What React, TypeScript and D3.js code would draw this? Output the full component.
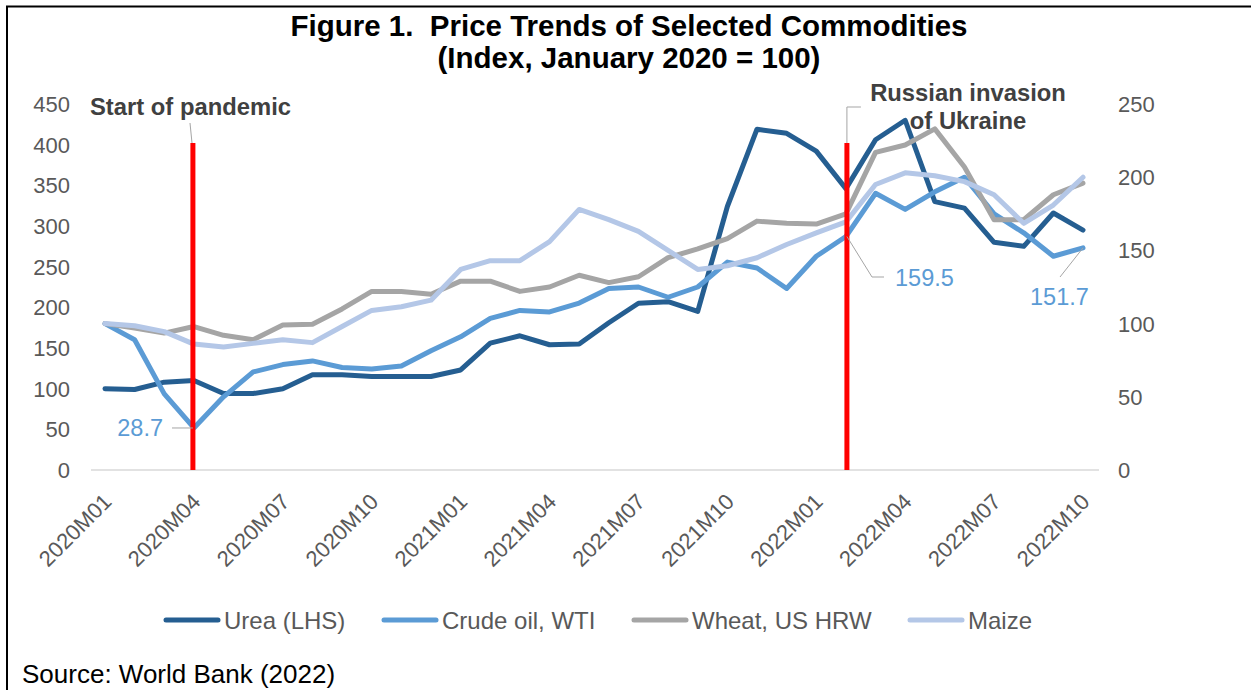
import * as d3 from 'd3'
import React from 'react'

// monthly index, January 2020 = 100
const months = d3.range(34).map((i) => {
  const y = 2020 + Math.floor(i / 12)
  const m = (i % 12) + 1
  return `${y}M${m < 10 ? '0' + m : m}`
})
const tickMonths = months.filter((_, i) => i % 3 === 0)

const urea = [100, 99, 108, 110, 94, 94, 100, 117, 117, 115, 115, 115, 123, 156, 165, 154, 155, 181, 205, 207, 195, 324, 419, 414, 392, 346, 406, 430, 330, 322, 280, 275, 316, 295]
const crude = [100, 89, 52, 28.7, 50, 67, 72, 74.5, 70, 69, 71, 81.5, 91, 103.6, 109, 108, 114, 124, 125, 118, 125, 142, 138, 124, 146, 159.5, 189, 178, 190, 200, 175, 162, 146, 151.7]
const wheat = [100, 97, 93.5, 98, 92, 89, 99, 99.5, 110, 122, 122, 120, 129, 129, 122, 125, 133, 128, 132, 145, 151, 158, 170, 168.5, 168, 175, 217, 222, 233, 207, 171, 171, 188, 196]
const maize = [100, 98.5, 94.5, 86, 84, 86.5, 89, 87, 98, 109, 111.5, 116, 137, 143, 143, 156, 178, 171, 163, 150, 137, 139.5, 145, 154, 162, 169.5, 195, 203, 201, 197, 188, 168.5, 181, 200]

const leftTicks = [0, 50, 100, 150, 200, 250, 300, 350, 400, 450]
const rightTicks = [0, 50, 100, 150, 200, 250]

const series = [
  { name: 'Urea (LHS)', values: urea, color: '#255e91', axis: 'left' },
  { name: 'Crude oil, WTI', values: crude, color: '#5b9bd5', axis: 'right' },
  { name: 'Wheat, US HRW', values: wheat, color: '#a5a5a5', axis: 'right' },
  { name: 'Maize', values: maize, color: '#b4c7e7', axis: 'right' },
]
const legendX = [164, 382, 632, 908]

const font = 'Arial, "Liberation Sans", sans-serif'
const grey = '#595959'

const App = () => {
  const x = d3.scalePoint().domain(months).range([105, 1083])
  const yL = d3.scaleLinear().domain([0, 450]).range([470, 104])
  const yR = d3.scaleLinear().domain([0, 250]).range([470, 104])

  const line = (vals, y) =>
    d3.line<number>()
      .x((_, i) => x(months[i]))
      .y((d) => y(d))(vals)

  const covid = x('2020M04') - 1
  const war = x('2022M02') + 1

  return (
    <svg width={1251} height={690} style={{ position: 'absolute', left: 0, top: 0 }} fontFamily={font}>
      <rect width={1251} height={690} fill="#fff" />
      <line x1={6} x2={1251} y1={6.5} y2={6.5} stroke="#000" strokeWidth={2} />
      <line x1={7} x2={7} y1={6} y2={690} stroke="#000" strokeWidth={2} />

      <text x={629} y={36} textAnchor="middle" fontSize={29.5} fontWeight="bold">{'Figure 1.\u00a0 Price Trends of Selected Commodities'}</text>
      <text x={629} y={68} textAnchor="middle" fontSize={29.5} fontWeight="bold">(Index, January 2020 = 100)</text>

      {leftTicks.map((t) => (
        <text key={'l' + t} x={70} y={yL(t)} dy="0.36em" textAnchor="end" fontSize={22} fill={grey}>{t}</text>
      ))}
      {rightTicks.map((t) => (
        <text key={'r' + t} x={1118} y={yR(t)} dy="0.36em" fontSize={22} fill={grey}>{t}</text>
      ))}

      <line x1={91} x2={1099} y1={470} y2={470} stroke="#d9d9d9" strokeWidth={1.5} />

      {tickMonths.map((m) => (
        <text key={m} transform={`translate(${x(m) + 8},${503}) rotate(-45)`} textAnchor="end" fontSize={22} fill={grey}>{m}</text>
      ))}

      {series.map((s) => (
        <path key={s.name} d={line(s.values, s.axis === 'left' ? yL : yR)} fill="none" stroke={s.color} strokeWidth={5} strokeLinejoin="round" strokeLinecap="round" />
      ))}

      <line x1={covid} x2={covid} y1={143} y2={470} stroke="#ff0000" strokeWidth={5} />
      <line x1={war} x2={war} y1={143} y2={470} stroke="#ff0000" strokeWidth={5} />

      <text x={90} y={115} fontSize={23.8} fontWeight="bold" fill="#404040">Start of pandemic</text>
      <line x1={190} y1={123} x2={192} y2={143} stroke="#a5a5a5" strokeWidth={1} />
      <text x={968} y={101} textAnchor="middle" fontSize={23.8} fontWeight="bold" fill="#404040">Russian invasion</text>
      <text x={968} y={129} textAnchor="middle" fontSize={23.8} fontWeight="bold" fill="#404040">of Ukraine</text>
      <polyline points={`${war},143 ${war},107 ${war + 14},107`} fill="none" stroke="#a5a5a5" strokeWidth={1} />

      <text x={163} y={yR(28.7)} dy="0.36em" textAnchor="end" fontSize={23.5} fill="#5b9bd5">28.7</text>
      <line x1={172} x2={covid} y1={yR(28.7)} y2={yR(28.7)} stroke="#a5a5a5" strokeWidth={1} />
      <text x={895} y={278} dy="0.36em" fontSize={23.5} fill="#5b9bd5">159.5</text>
      <polyline points={`${war},${yR(159.5)} 872,277 884,277`} fill="none" stroke="#a5a5a5" strokeWidth={1} />
      <text x={1030} y={297} dy="0.36em" fontSize={23.5} fill="#5b9bd5">151.7</text>
      <line x1={x('2022M10')} y1={yR(151.7)} x2={1060} y2={277} stroke="#a5a5a5" strokeWidth={1} />

      {series.map((s, i) => (
        <g key={'lg' + s.name}>
          <line x1={legendX[i] + 2} x2={legendX[i] + 54} y1={620} y2={620} stroke={s.color} strokeWidth={5} strokeLinecap="round" />
          <text x={legendX[i] + 60} y={620} dy="0.36em" fontSize={24} fill={grey}>{s.name}</text>
        </g>
      ))}

      <text x={22} y={683} fontSize={26} fill="#000">Source: World Bank (2022)</text>
    </svg>
  )
}

export default App
